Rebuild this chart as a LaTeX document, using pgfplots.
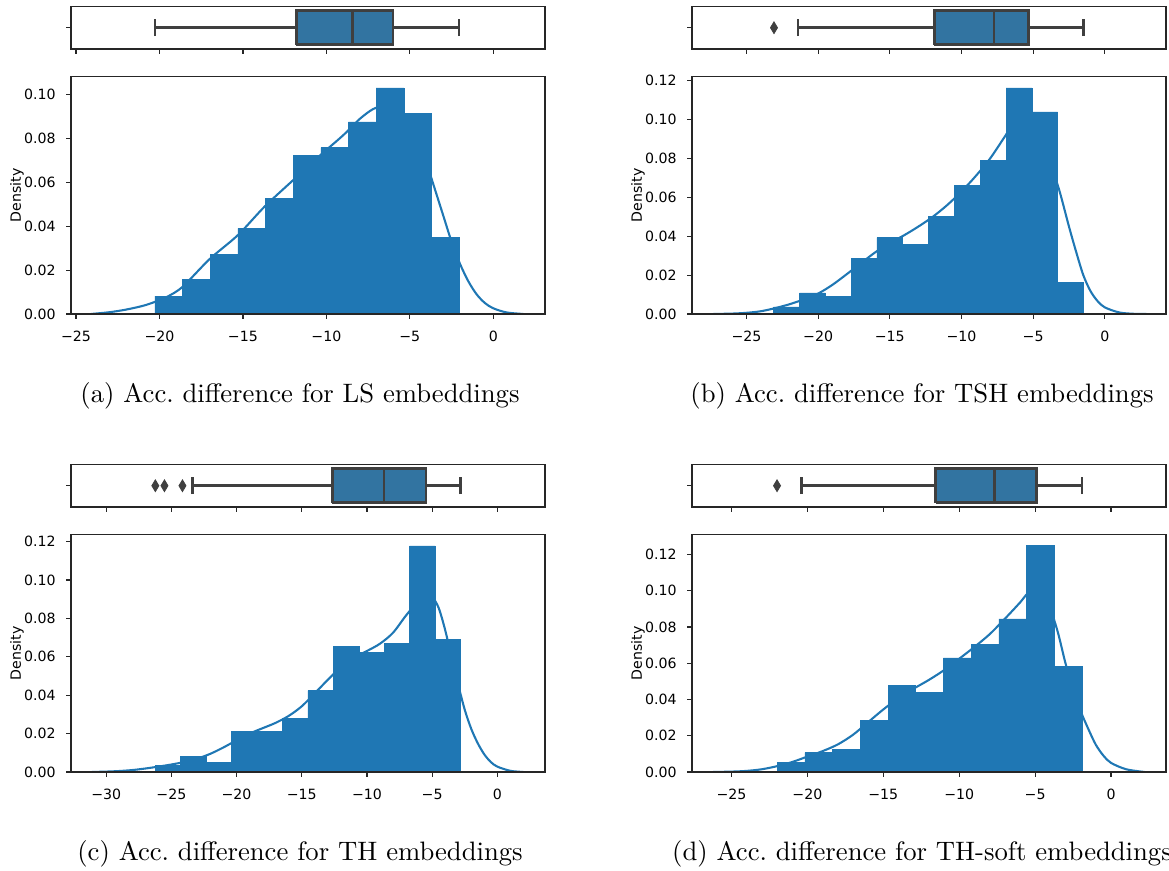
\documentclass[border=0pt]{standalone}
\usepackage{fontspec}
\usepackage{pgfplots}
\pgfplotsset{compat=1.18}
\newfontfamily\dejavu{DejaVu Sans}
\definecolor{tabblue}{HTML}{1F77B4}
\definecolor{boxblue}{HTML}{3274A1}
\definecolor{boxgray}{HTML}{3F3F3F}
\newcommand\tickfont{\dejavu\fontsize{5.3}{6.3}\selectfont}
\pgfplotsset{
  mpl/.style={scale only axis, width=177.75pt, axis on top, anchor=south west,
    axis line style={line width=0.45pt, black!85},
    every tick/.style={line width=0.45pt, black!85},
    tick align=outside, major tick length=1.82pt, tick pos=left,
    ticklabel style={font=\tickfont},
    xticklabel style={inner sep=0pt, anchor=north, yshift=-4.4pt},
    yticklabel style={inner sep=0pt, anchor=east, xshift=-3.75pt},
    label style={font=\tickfont},
  },
  hist/.style={mpl, height=89pt, ymin=0, ylabel={Density}, ylabel shift=-3.4pt},
  bxp/.style={mpl, height=15.94pt, ymin=-0.5, ymax=0.5, ytick={0}, yticklabels={}, xticklabels={}},
  kde/.style={tabblue, line width=0.78pt, smooth, tension=0.5},
  bars/.style={ybar interval, fill=tabblue, draw=tabblue, line width=0.2pt},
  bline/.style={draw=boxgray, line width=0.95pt, line join=miter},
  flier/.style={only marks, mark=diamond*, mark size=2.2pt, mark options={fill=boxgray, draw=boxgray, xscale=0.8, line width=0.3pt}},
}
\begin{document}
\begin{tikzpicture}
\useasboundingbox (0pt,0pt) rectangle (438.375pt,326.625pt);

% ---------------- (a) ----------------
\begin{axis}[bxp, at={(26.625pt,308.25pt)}, xmin=-25.3, xmax=3.1, xtick={-25,-20,-15,-10,-5,0}]
\addplot[bline, fill=boxblue] coordinates {(-11.80,-0.4) (-6.00,-0.4) (-6.00,0.4) (-11.80,0.4) (-11.80,-0.4)};
\addplot[bline] coordinates {(-8.45,-0.4) (-8.45,0.4)};
\addplot[bline] coordinates {(-20.28,0) (-11.80,0)};
\addplot[bline] coordinates {(-6.00,0) (-2.04,0)};
\addplot[bline] coordinates {(-20.28,-0.2) (-20.28,0.2)};
\addplot[bline] coordinates {(-2.04,-0.2) (-2.04,0.2)};
\end{axis}
\begin{axis}[hist, at={(26.625pt,208.875pt)}, xmin=-25.3, xmax=3.1, ymax=0.1083,
  xtick={-25,-20,-15,-10,-5,0}, xticklabels={−25,−20,−15,−10,−5,0},
  ytick={0,0.02,0.04,0.06,0.08,0.10}, yticklabels={0.00,0.02,0.04,0.06,0.08,0.10}]
\addplot[bars] coordinates {(-20.28,0.0082) (-18.622,0.0159) (-16.964,0.0273) (-15.306,0.0391) (-13.648,0.0527) (-11.99,0.0723) (-10.332,0.0759) (-8.674,0.0877) (-7.016,0.1032) (-5.358,0.0914) (-3.70,0.0350) (-2.042,0.0350)};
\addplot[kde] coordinates {(-24.1,0) (-23,0.0008) (-22,0.0020) (-21,0.0037) (-20.28,0.0055) (-19.5,0.0080) (-18.6,0.0125) (-17.0,0.0250) (-15.3,0.0360) (-13.7,0.0490) (-12.0,0.0610) (-10.4,0.0722) (-9.0,0.0815) (-8.0,0.0890) (-7.2,0.0935) (-6.5,0.0950) (-6.0,0.0940) (-5.0,0.0880) (-4.5,0.0800) (-4.0,0.0690) (-3.5,0.0570) (-3.0,0.0450) (-2.5,0.0330) (-2.0,0.0230) (-1.5,0.0150) (-1.0,0.0090) (-0.5,0.0050) (0,0.0026) (0.8,0.0007) (1.8,0)};
\end{axis}

% ---------------- (b) ----------------
\begin{axis}[bxp, at={(259.5pt,308.25pt)}, xmin=-28.8, xmax=4.27, xtick={-25,-20,-15,-10,-5,0}]
\addplot[bline, fill=boxblue] coordinates {(-11.90,-0.4) (-5.33,-0.4) (-5.33,0.4) (-11.90,0.4) (-11.90,-0.4)};
\addplot[bline] coordinates {(-7.73,-0.4) (-7.73,0.4)};
\addplot[bline] coordinates {(-21.40,0) (-11.90,0)};
\addplot[bline] coordinates {(-5.33,0) (-1.49,0)};
\addplot[bline] coordinates {(-21.40,-0.2) (-21.40,0.2)};
\addplot[bline] coordinates {(-1.49,-0.2) (-1.49,0.2)};
\addplot[flier] coordinates {(-23.08,0)};
\end{axis}
\begin{axis}[hist, at={(259.5pt,208.875pt)}, xmin=-28.8, xmax=4.27, ymax=0.1221,
  xtick={-25,-20,-15,-10,-5,0}, xticklabels={−25,−20,−15,−10,−5,0},
  ytick={0,0.02,0.04,0.06,0.08,0.10,0.12}, yticklabels={0.00,0.02,0.04,0.06,0.08,0.10,0.12}]
\addplot[bars] coordinates {(-23.10,0.0036) (-21.30,0.0108) (-19.50,0.0092) (-17.70,0.0287) (-15.90,0.0393) (-14.10,0.0358) (-12.29,0.0502) (-10.49,0.0661) (-8.69,0.0789) (-6.89,0.1163) (-5.09,0.1040) (-3.29,0.0164) (-1.49,0.0164)};
\addplot[kde] coordinates {(-27.3,0) (-26,0.0002) (-25,0.0006) (-24,0.0014) (-23,0.0030) (-22,0.0050) (-21,0.0075) (-20,0.0105) (-19,0.0150) (-18,0.0205) (-17,0.0262) (-16,0.0318) (-15,0.0365) (-14,0.0405) (-13,0.0450) (-12,0.0500) (-11,0.0560) (-10,0.0630) (-9,0.0710) (-8,0.0800) (-7,0.0910) (-6.5,0.0965) (-6,0.1000) (-5.5,0.1010) (-5,0.0985) (-4.5,0.0920) (-4,0.0820) (-3.3,0.0666) (-3,0.0590) (-2.5,0.0450) (-2,0.0320) (-1.5,0.0200) (-1,0.0118) (-0.5,0.0066) (0,0.0034) (1,0.0008) (2,0.0001) (2.9,0)};
\end{axis}

% ---------------- (c) ----------------
\begin{axis}[bxp, at={(26.625pt,136.5pt)}, xmin=-32.7, xmax=3.66, xtick={-30,-25,-20,-15,-10,-5,0}]
\addplot[bline, fill=boxblue] coordinates {(-12.65,-0.4) (-5.47,-0.4) (-5.47,0.4) (-12.65,0.4) (-12.65,-0.4)};
\addplot[bline] coordinates {(-8.69,-0.4) (-8.69,0.4)};
\addplot[bline] coordinates {(-23.36,0) (-12.65,0)};
\addplot[bline] coordinates {(-5.47,0) (-2.82,0)};
\addplot[bline] coordinates {(-23.36,-0.2) (-23.36,0.2)};
\addplot[bline] coordinates {(-2.82,-0.2) (-2.82,0.2)};
\addplot[flier] coordinates {(-26.23,0) (-25.53,0) (-24.15,0)};
\end{axis}
\begin{axis}[hist, at={(26.625pt,37.125pt)}, xmin=-32.7, xmax=3.66, ymax=0.1236,
  xtick={-30,-25,-20,-15,-10,-5,0}, xticklabels={−30,−25,−20,−15,−10,−5,0},
  ytick={0,0.02,0.04,0.06,0.08,0.10,0.12}, yticklabels={0.00,0.02,0.04,0.06,0.08,0.10,0.12}]
\addplot[bars] coordinates {(-26.23,0.0035) (-24.28,0.0081) (-22.33,0.0050) (-20.38,0.0211) (-18.43,0.0211) (-16.48,0.0279) (-14.52,0.0424) (-12.57,0.0653) (-10.62,0.0622) (-8.67,0.0668) (-6.72,0.1177) (-4.77,0.0689) (-2.82,0.0689)};
\addplot[kde] coordinates {(-31.1,0) (-30,0.0002) (-29,0.0005) (-28,0.0010) (-27,0.0018) (-26,0.0028) (-25,0.0039) (-24,0.0052) (-23,0.0070) (-22,0.0095) (-21,0.0128) (-20,0.0165) (-19,0.0200) (-18,0.0228) (-17,0.0256) (-16,0.0292) (-15,0.0342) (-14,0.0410) (-13,0.0480) (-12,0.0545) (-11,0.0595) (-10,0.0630) (-9,0.0668) (-8,0.0725) (-7,0.0815) (-6,0.0895) (-5.5,0.0920) (-5,0.0912) (-4.5,0.0855) (-4,0.0740) (-3.5,0.0595) (-3,0.0455) (-2.5,0.0325) (-2,0.0225) (-1.5,0.0150) (-1,0.0092) (-0.5,0.0052) (0,0.0028) (1,0.0006) (2,0)};
\end{axis}

% ---------------- (d) ----------------
\begin{axis}[bxp, at={(259.5pt,136.5pt)}, xmin=-27.6, xmax=3.62, xtick={-25,-20,-15,-10,-5,0}]
\addplot[bline, fill=boxblue] coordinates {(-11.55,-0.4) (-4.92,-0.4) (-4.92,0.4) (-11.55,0.4) (-11.55,-0.4)};
\addplot[bline] coordinates {(-7.68,-0.4) (-7.68,0.4)};
\addplot[bline] coordinates {(-20.39,0) (-11.55,0)};
\addplot[bline] coordinates {(-4.92,0) (-1.91,0)};
\addplot[bline] coordinates {(-20.39,-0.2) (-20.39,0.2)};
\addplot[bline] coordinates {(-1.91,-0.2) (-1.91,0.2)};
\addplot[flier] coordinates {(-22.0,0)};
\end{axis}
\begin{axis}[hist, at={(259.5pt,37.125pt)}, xmin=-27.6, xmax=3.62, ymax=0.131,
  xtick={-25,-20,-15,-10,-5,0}, xticklabels={−25,−20,−15,−10,−5,0},
  ytick={0,0.02,0.04,0.06,0.08,0.10,0.12}, yticklabels={0.00,0.02,0.04,0.06,0.08,0.10,0.12}]
\addplot[bars] coordinates {(-22.00,0.0053) (-20.17,0.0107) (-18.35,0.0123) (-16.52,0.0283) (-14.69,0.0476) (-12.87,0.0439) (-11.04,0.0630) (-9.22,0.0704) (-7.39,0.0845) (-5.56,0.1250) (-3.74,0.0581) (-1.91,0.0581)};
\addplot[kde] coordinates {(-26.2,0) (-25,0.0002) (-24,0.0006) (-23,0.0015) (-22,0.0032) (-21,0.0055) (-20,0.0085) (-19,0.0115) (-18,0.0152) (-17,0.0205) (-16,0.0275) (-15,0.0345) (-14,0.0408) (-13,0.0460) (-12,0.0508) (-11,0.0562) (-10,0.0625) (-9,0.0690) (-8,0.0760) (-7,0.0845) (-6,0.0935) (-5.5,0.0985) (-5,0.1005) (-4.5,0.0975) (-4,0.0900) (-3.5,0.0770) (-3,0.0600) (-2.5,0.0455) (-2,0.0335) (-1.5,0.0238) (-1,0.0150) (-0.5,0.0090) (0,0.0050) (1,0.0015) (2.2,0)};
\end{axis}

% ---------------- captions ----------------
\node[anchor=base, font=\fontsize{10}{12}\selectfont, inner sep=0pt] at (112.5pt,175.5pt) {(a) Acc.\ difference for LS embeddings};
\node[anchor=base, font=\fontsize{10}{12}\selectfont, inner sep=0pt] at (345.75pt,175.5pt) {(b) Acc.\ difference for TSH embeddings};
\node[anchor=base, font=\fontsize{10}{12}\selectfont, inner sep=0pt] at (112.5pt,3.75pt) {(c) Acc.\ difference for TH embeddings};
\node[anchor=base, font=\fontsize{10}{12}\selectfont, inner sep=0pt] at (345.75pt,3.75pt) {(d) Acc.\ difference for TH-soft embeddings};
\end{tikzpicture}
\end{document}
